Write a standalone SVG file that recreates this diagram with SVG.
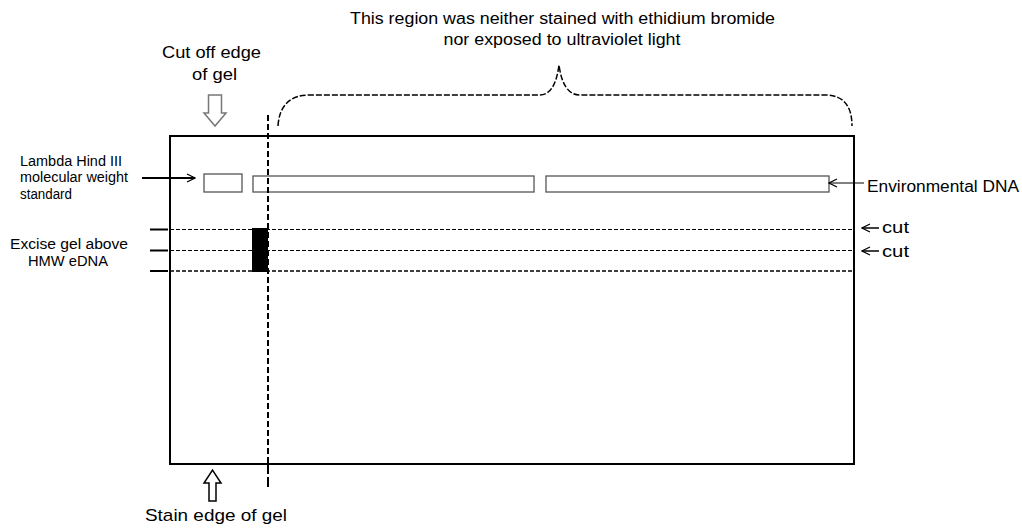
<svg xmlns="http://www.w3.org/2000/svg" width="1022" height="529" viewBox="0 0 1022 529">
<defs>
<style>
text{font-family:"Liberation Sans",Arial,sans-serif;fill:#000}
.t17{font-size:17px}
.t16{font-size:16px}
.t14{font-size:14px}
.band{fill:#fff;stroke:#555;stroke-width:1.3}
.cut{stroke:#000;stroke-width:1;stroke-dasharray:4,2;fill:none}
</style>
<marker id="open" viewBox="0 0 10 10" refX="9" refY="5" markerWidth="10" markerHeight="10" markerUnits="userSpaceOnUse" orient="auto">
<path d="M1,1 L9,5 L1,9" fill="none" stroke="#000" stroke-width="1.2"/>
</marker>
</defs>
<rect width="1022" height="529" fill="#fff"/>

<g id="gel">
<rect x="170" y="136" width="684" height="328" fill="none" stroke="#000" stroke-width="2"/>
</g>

<g id="bands">
<rect class="band" x="204" y="174" width="38" height="18"/>
<rect class="band" x="253" y="176" width="281" height="16"/>
<rect class="band" x="546" y="176" width="283" height="16"/>
<rect x="252" y="228" width="16" height="44" fill="#000"/>
</g>

<g id="connectors">
<line x1="268" y1="115" x2="268" y2="464" stroke="#000" stroke-width="2" stroke-dasharray="6,3"/>
<line x1="268" y1="464" x2="268" y2="489" stroke="#000" stroke-width="2" stroke-dasharray="10,3"/>
<line class="cut" x1="170" y1="229.5" x2="853" y2="229.5"/>
<line class="cut" x1="170" y1="250.5" x2="853" y2="250.5"/>
<line x1="170" y1="271" x2="853" y2="271" stroke="#000" stroke-width="1.5" stroke-dasharray="4,2"/>
<line x1="150" y1="229.5" x2="168" y2="229.5" stroke="#000" stroke-width="2"/>
<line x1="150" y1="250.5" x2="168" y2="250.5" stroke="#000" stroke-width="2"/>
<line x1="150" y1="271" x2="168" y2="271" stroke="#000" stroke-width="2"/>
<line x1="142" y1="178" x2="195" y2="178" stroke="#000" stroke-width="2" marker-end="url(#open)"/>
<line x1="864" y1="183" x2="829" y2="183" stroke="#000" stroke-width="1" marker-end="url(#open)"/>
<line x1="879" y1="228" x2="862" y2="228" stroke="#000" stroke-width="1.5" marker-end="url(#open)"/>
<line x1="879" y1="251" x2="862" y2="251" stroke="#000" stroke-width="1.5" marker-end="url(#open)"/>
<path d="M278,126 Q280,95 310,95 L540,95 Q555,95 559,65 Q563,95 580,95 L825,95 Q852,95 852,126" fill="none" stroke="#000" stroke-width="1.5" stroke-dasharray="6,2"/>
<path d="M208.5,95 L221.5,95 L221.5,113 L226,113 L215,126 L204,113 L208.5,113 Z" fill="#fff" stroke="#777" stroke-width="1.5"/>
<path d="M209,501 L216,501 L216,483 L221,483 L212.5,470 L204,483 L209,483 Z" fill="#fff" stroke="#000" stroke-width="1.5"/>
</g>

<g id="labels">
<text class="t16" x="350" y="24" textLength="425" lengthAdjust="spacingAndGlyphs">This region was neither stained with ethidium bromide</text>
<text class="t16" x="562" y="45" text-anchor="middle" textLength="237" lengthAdjust="spacingAndGlyphs">nor exposed to ultraviolet light</text>
<text class="t17" x="162" y="58" textLength="99" lengthAdjust="spacingAndGlyphs">Cut off edge</text>
<text class="t17" x="192" y="80" textLength="45" lengthAdjust="spacingAndGlyphs">of gel</text>
<text class="t14" x="20" y="166" textLength="102" lengthAdjust="spacingAndGlyphs">Lambda Hind III</text>
<text class="t14" x="20" y="182" textLength="108" lengthAdjust="spacingAndGlyphs">molecular weight</text>
<text class="t14" x="20" y="199" textLength="52" lengthAdjust="spacingAndGlyphs">standard</text>
<text class="t14" x="10" y="249" textLength="118" lengthAdjust="spacingAndGlyphs">Excise gel above</text>
<text class="t14" x="28" y="266" textLength="80" lengthAdjust="spacingAndGlyphs">HMW eDNA</text>
<text class="t16" x="867" y="192" textLength="152" lengthAdjust="spacingAndGlyphs">Environmental DNA</text>
<text class="t16" x="882" y="233" textLength="27" lengthAdjust="spacingAndGlyphs">cut</text>
<text class="t16" x="882" y="257" textLength="27" lengthAdjust="spacingAndGlyphs">cut</text>
<text class="t17" x="145" y="521" textLength="142" lengthAdjust="spacingAndGlyphs">Stain edge of gel</text>
</g>
</svg>
